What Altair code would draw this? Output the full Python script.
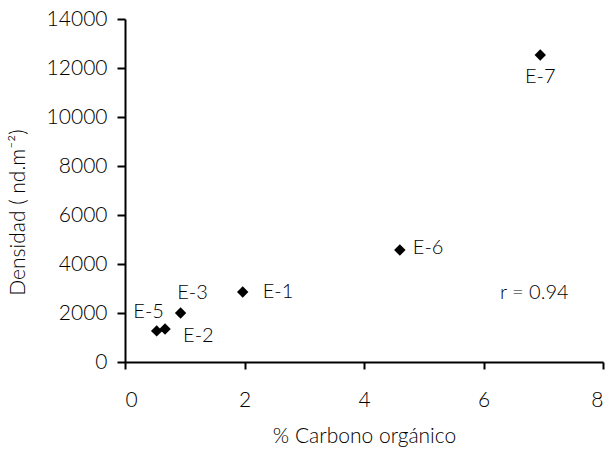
import altair as alt
import pandas as pd

names = ["E-1", "E-2", "E-3", "E-5", "E-6", "E-7"]
carbon = [1.97, 0.67, 0.93, 0.53, 4.60, 6.95]
density = [2860, 1350, 2000, 1270, 4570, 12530]
x_ticks = [0, 2, 4, 6, 8]
y_ticks = [0, 2000, 4000, 6000, 8000, 10000, 12000, 14000]
r_text = ["r = 0.94"]
r_pos_x = [6.85]
r_pos_y = [2820]

df = pd.DataFrame({"name": names, "c": carbon, "d": density})
FONT = "Lato"

xs = alt.Scale(domain=[0, 8], nice=False)
ys = alt.Scale(domain=[0, 14000], nice=False)

base = alt.Chart(df)

points = base.mark_point(shape="diamond", filled=True, color="black", size=130, opacity=1).encode(
    x=alt.X("c:Q", scale=xs, axis=alt.Axis(
        values=x_ticks, title="% Carbono orgánico", grid=False,
        tickSize=7, labelPadding=20, titlePadding=15, format="d")),
    y=alt.Y("d:Q", scale=ys, axis=alt.Axis(
        values=y_ticks, title="Densidad ( nd.m⁻²)", grid=False,
        tickSize=8, labelPadding=10, format="d",
        titleX=-107, titleY=193, titleAngle=-90, titleBaseline="middle", titleAlign="center")),
)

offsets = {
    "E-1": dict(dx=20, dy=0, align="left"),
    "E-2": dict(dx=18, dy=7, align="left"),
    "E-3": dict(dx=12, dy=-20, align="center"),
    "E-5": dict(dx=-8, dy=-19, align="center"),
    "E-6": dict(dx=13, dy=-2, align="left"),
    "E-7": dict(dx=0, dy=22, align="center"),
}

layers = [points]
for n in names:
    o = offsets[n]
    layers.append(
        base.transform_filter(alt.datum.name == n).mark_text(
            font=FONT, fontSize=20, fontWeight=300, color="black", baseline="middle",
            align=o["align"], dx=o["dx"], dy=o["dy"]
        ).encode(x=alt.X("c:Q", scale=xs), y=alt.Y("d:Q", scale=ys), text="name:N")
    )

rdf = pd.DataFrame({"t": r_text, "x": r_pos_x, "y": r_pos_y})
layers.append(
    alt.Chart(rdf).mark_text(font=FONT, fontSize=20, fontWeight=300, color="black", baseline="middle", align="center").encode(
        x=alt.X("x:Q", scale=xs), y=alt.Y("y:Q", scale=ys), text="t:N")
)

chart = alt.layer(*layers).properties(
    width=478, height=343,
    autosize=alt.AutoSizeParams(type="none"),
    padding={"left": 125, "top": 19, "right": 5, "bottom": 93},
).configure_view(stroke=None).configure_axis(
    labelFont=FONT, titleFont=FONT, labelFontSize=21, titleFontSize=21,
    labelFontWeight=300, titleFontWeight=300,
    labelColor="black", titleColor="black",
    domainColor="black", tickColor="black", domainWidth=2, tickWidth=2,
)

chart.save("out.html", embed_options={"renderer": "svg", "actions": False})
